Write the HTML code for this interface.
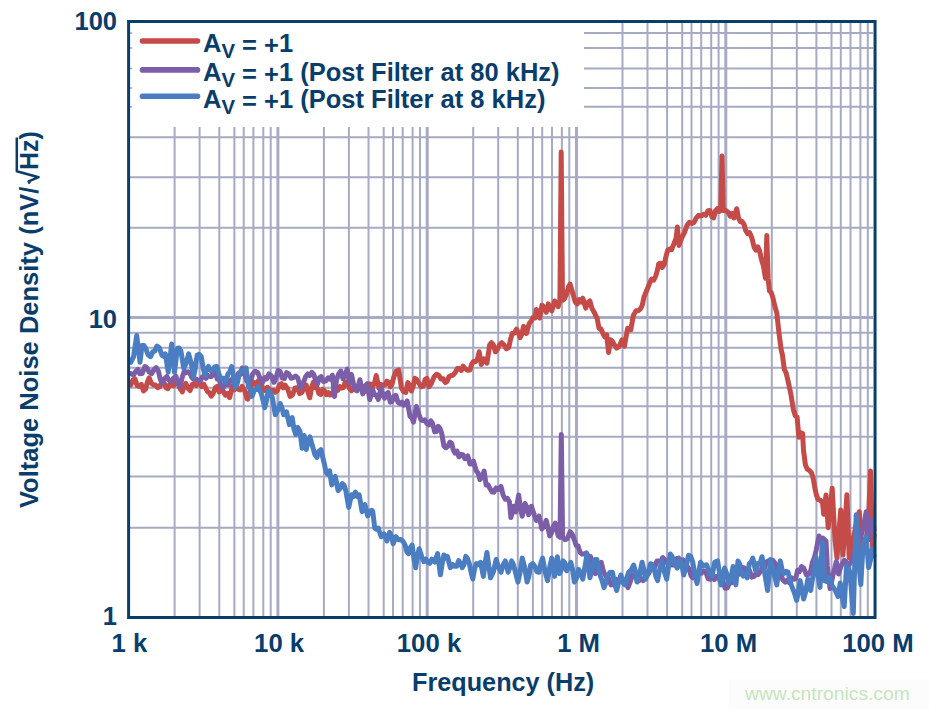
<!DOCTYPE html><html><head><meta charset="utf-8"><style>html,body{margin:0;padding:0;background:#fff;width:929px;height:709px;overflow:hidden}svg{display:block}</style></head><body><svg width="929" height="709" viewBox="0 0 929 709">
<rect width="929" height="709" fill="#fff"/>
<rect x="729" y="679" width="200" height="30" fill="#fcfcfc"/>
<g stroke="#a6aac3"><line x1="174.6" y1="127" x2="174.6" y2="616" stroke-width="2.0"/><line x1="199.6" y1="127" x2="199.6" y2="616" stroke-width="2.0"/><line x1="219.3" y1="127" x2="219.3" y2="616" stroke-width="2.0"/><line x1="234.4" y1="127" x2="234.4" y2="616" stroke-width="2.0"/><line x1="243.7" y1="127" x2="243.7" y2="616" stroke-width="2.0"/><line x1="253.4" y1="127" x2="253.4" y2="616" stroke-width="2.0"/><line x1="263.3" y1="127" x2="263.3" y2="616" stroke-width="2.0"/><line x1="270.7" y1="127" x2="270.7" y2="616" stroke-width="2.0"/><line x1="323.9" y1="127" x2="323.9" y2="616" stroke-width="2.0"/><line x1="348.9" y1="127" x2="348.9" y2="616" stroke-width="2.0"/><line x1="368.5" y1="127" x2="368.5" y2="616" stroke-width="2.0"/><line x1="383.7" y1="127" x2="383.7" y2="616" stroke-width="2.0"/><line x1="393.0" y1="127" x2="393.0" y2="616" stroke-width="2.0"/><line x1="402.7" y1="127" x2="402.7" y2="616" stroke-width="2.0"/><line x1="412.6" y1="127" x2="412.6" y2="616" stroke-width="2.0"/><line x1="420.0" y1="127" x2="420.0" y2="616" stroke-width="2.0"/><line x1="473.2" y1="127" x2="473.2" y2="616" stroke-width="2.0"/><line x1="498.2" y1="127" x2="498.2" y2="616" stroke-width="2.0"/><line x1="517.8" y1="127" x2="517.8" y2="616" stroke-width="2.0"/><line x1="532.9" y1="127" x2="532.9" y2="616" stroke-width="2.0"/><line x1="542.2" y1="127" x2="542.2" y2="616" stroke-width="2.0"/><line x1="552.0" y1="127" x2="552.0" y2="616" stroke-width="2.0"/><line x1="561.9" y1="127" x2="561.9" y2="616" stroke-width="2.0"/><line x1="569.3" y1="127" x2="569.3" y2="616" stroke-width="2.0"/><line x1="622.5" y1="23" x2="622.5" y2="616" stroke-width="2.0"/><line x1="647.5" y1="23" x2="647.5" y2="616" stroke-width="2.0"/><line x1="667.1" y1="23" x2="667.1" y2="616" stroke-width="2.0"/><line x1="682.2" y1="23" x2="682.2" y2="616" stroke-width="2.0"/><line x1="691.5" y1="23" x2="691.5" y2="616" stroke-width="2.0"/><line x1="701.2" y1="23" x2="701.2" y2="616" stroke-width="2.0"/><line x1="711.2" y1="23" x2="711.2" y2="616" stroke-width="2.0"/><line x1="718.6" y1="23" x2="718.6" y2="616" stroke-width="2.0"/><line x1="771.8" y1="23" x2="771.8" y2="616" stroke-width="2.0"/><line x1="796.8" y1="23" x2="796.8" y2="616" stroke-width="2.0"/><line x1="816.4" y1="23" x2="816.4" y2="616" stroke-width="2.0"/><line x1="831.5" y1="23" x2="831.5" y2="616" stroke-width="2.0"/><line x1="840.8" y1="23" x2="840.8" y2="616" stroke-width="2.0"/><line x1="850.5" y1="23" x2="850.5" y2="616" stroke-width="2.0"/><line x1="860.4" y1="23" x2="860.4" y2="616" stroke-width="2.0"/><line x1="867.8" y1="23" x2="867.8" y2="616" stroke-width="2.0"/><line x1="277.9" y1="127" x2="277.9" y2="616" stroke-width="3"/><line x1="427.2" y1="127" x2="427.2" y2="616" stroke-width="3"/><line x1="576.5" y1="127" x2="576.5" y2="616" stroke-width="3"/><line x1="725.8" y1="23" x2="725.8" y2="616" stroke-width="3"/><line x1="584" y1="33.0" x2="873" y2="33.0" stroke-width="2.0"/><line x1="584" y1="48.0" x2="873" y2="48.0" stroke-width="2.0"/><line x1="584" y1="68.5" x2="873" y2="68.5" stroke-width="2.0"/><line x1="584" y1="88.0" x2="873" y2="88.0" stroke-width="2.0"/><line x1="584" y1="106.8" x2="873" y2="106.8" stroke-width="2.0"/><line x1="130" y1="137.3" x2="873" y2="137.3" stroke-width="2.0"/><line x1="130" y1="177.2" x2="873" y2="177.2" stroke-width="2.0"/><line x1="130" y1="227.8" x2="873" y2="227.8" stroke-width="2.0"/><line x1="130" y1="332.8" x2="873" y2="332.8" stroke-width="2.0"/><line x1="130" y1="347.7" x2="873" y2="347.7" stroke-width="2.0"/><line x1="130" y1="367.7" x2="873" y2="367.7" stroke-width="2.0"/><line x1="130" y1="387.8" x2="873" y2="387.8" stroke-width="2.0"/><line x1="130" y1="406.3" x2="873" y2="406.3" stroke-width="2.0"/><line x1="130" y1="436.8" x2="873" y2="436.8" stroke-width="2.0"/><line x1="130" y1="476.5" x2="873" y2="476.5" stroke-width="2.0"/><line x1="130" y1="527.8" x2="873" y2="527.8" stroke-width="2.0"/><line x1="130" y1="317.5" x2="873" y2="317.5" stroke-width="3"/></g>
<g stroke="#a6aac3" stroke-width="1.6"><line x1="130" y1="33.0" x2="132.2" y2="33.0"/><line x1="130" y1="48.0" x2="132.2" y2="48.0"/><line x1="130" y1="68.5" x2="132.2" y2="68.5"/><line x1="130" y1="88.0" x2="132.2" y2="88.0"/><line x1="130" y1="106.8" x2="132.2" y2="106.8"/></g>
<path d="M130.8,384.9 L132.9,380.0 L135.1,379.2 L137.2,385.6 L139.3,386.3 L141.4,384.4 L143.5,391.0 L145.6,389.1 L147.4,381.9 L149.2,377.8 L151.3,383.1 L153.4,384.9 L155.5,384.9 L157.6,387.7 L159.7,386.9 L161.9,382.1 L164.0,382.8 L166.1,387.7 L168.0,388.7 L169.8,384.1 L171.7,384.9 L173.6,385.9 L175.5,381.2 L177.4,382.1 L179.8,388.1 L182.3,391.9 L184.1,386.3 L185.8,383.5 L187.9,388.2 L190.1,390.5 L192.2,384.5 L194.3,383.5 L196.2,385.5 L198.1,382.0 L199.9,383.5 L201.8,386.7 L203.7,384.2 L205.6,387.7 L207.5,391.7 L209.3,392.5 L211.2,396.2 L213.3,393.2 L215.4,387.7 L217.3,386.3 L219.2,391.9 L221.1,390.5 L223.2,391.2 L225.3,395.2 L227.4,393.5 L229.6,397.6 L232.4,386.3 L234.3,389.8 L236.1,387.2 L238.0,389.1 L240.1,389.9 L242.2,386.3 L244.7,390.6 L247.2,399.0 L247.8,399.2 L249.5,394.8 L251.3,385.1 L253.6,382.3 L256.0,384.6 L258.3,380.9 L260.5,381.9 L262.6,388.0 L264.9,390.4 L267.3,387.3 L269.6,389.4 L271.5,391.2 L273.4,390.3 L275.3,392.2 L277.4,390.5 L279.5,385.1 L281.4,383.7 L283.3,387.8 L285.1,385.1 L287.6,388.7 L290.1,396.4 L292.5,394.9 L295.0,388.0 L297.4,387.8 L299.7,393.5 L302.1,392.2 L304.2,385.9 L306.3,385.1 L308.1,392.5 L309.8,397.8 L311.6,387.5 L313.3,382.3 L315.2,387.8 L317.1,388.0 L319.0,393.6 L320.9,394.5 L322.7,389.4 L324.6,390.8 L326.5,394.7 L328.4,392.6 L330.3,395.0 L332.1,394.6 L334.0,388.7 L335.9,388.0 L337.8,390.4 L339.7,386.5 L341.6,388.0 L343.4,387.5 L345.3,381.8 L347.2,382.3 L349.3,388.1 L351.4,390.8 L353.3,387.5 L355.2,389.9 L357.1,388.0 L359.2,388.2 L361.3,389.0 L363.5,392.4 L365.6,390.5 L367.7,384.0 L370.2,383.9 L372.6,386.8 L374.4,383.5 L376.2,375.5 L379.0,388.2 L381.1,384.6 L383.2,385.4 L385.0,384.9 L386.7,381.2 L388.5,382.1 L390.3,386.8 L392.0,384.4 L393.8,376.9 L396.3,371.0 L398.7,369.9 L401.5,388.2 L403.7,391.7 L405.8,392.4 L407.9,382.6 L409.7,385.6 L411.4,391.0 L413.2,386.2 L414.9,378.3 L416.7,379.5 L418.5,382.6 L421.3,386.8 L423.2,386.4 L425.1,379.5 L426.9,378.3 L429.0,386.8 L431.5,383.2 L434.0,376.9 L436.5,374.2 L438.9,375.5 L441.0,379.0 L443.2,378.7 L445.3,382.6 L447.1,381.4 L449.0,376.7 L450.9,375.5 L453.0,375.2 L455.1,372.7 L457.3,368.6 L459.4,368.5 L461.3,370.4 L463.1,366.2 L465.0,368.5 L467.5,370.2 L470.0,369.9 L471.7,364.1 L473.5,361.4 L475.6,361.7 L477.4,359.1 L479.2,351.8 L481.3,364.5 L484.1,358.9 L486.9,363.1 L489.7,344.8 L491.5,342.6 L493.3,344.8 L495.4,351.8 L497.5,349.3 L499.6,344.8 L501.7,342.7 L503.9,344.8 L506.3,348.8 L508.8,347.6 L510.6,339.0 L512.3,333.5 L514.4,333.0 L516.5,329.2 L518.3,332.5 L520.1,337.7 L521.8,334.3 L523.6,326.4 L526.4,333.5 L529.2,323.6 L531.4,320.8 L533.1,317.5 L534.9,318.0 L536.3,309.5 L538.1,315.3 L539.8,318.0 L541.9,305.3 L544.0,307.0 L546.2,312.3 L548.3,303.9 L550.0,309.0 L551.8,310.9 L554.6,301.0 L556.4,302.9 L558.2,306.7 L559.9,300.3 L561.2,152.0 L562.5,300.3 L564.6,298.5 L566.6,294.0 L568.4,287.0 L570.1,284.1 L573.0,294.0 L575.1,301.7 L577.2,303.9 L579.1,299.5 L581.0,302.1 L582.8,298.2 L585.7,308.1 L587.8,302.6 L589.9,301.0 L591.9,308.3 L594.0,311.9 L597.1,318.3 L599.0,328.4 L601.0,329.0 L602.9,333.5 L604.8,337.0 L606.7,334.8 L608.6,352.5 L610.5,339.8 L612.4,341.2 L614.3,344.9 L616.8,348.1 L619.4,346.2 L621.9,339.8 L624.4,346.2 L627.6,328.4 L630.8,329.7 L633.3,315.7 L635.9,310.8 L638.4,310.6 L640.3,309.0 L642.2,305.6 L644.1,296.7 L647.3,289.0 L649.8,282.7 L651.7,279.0 L653.7,280.2 L655.6,276.2 L657.5,270.0 L658.7,263.8 L660.5,263.2 L662.3,267.4 L664.2,264.4 L666.0,256.4 L667.8,249.9 L669.7,249.1 L671.5,249.7 L673.3,245.4 L676.1,238.1 L677.4,227.1 L678.9,245.4 L681.6,238.1 L684.4,232.6 L687.1,225.2 L689.4,222.2 L691.7,223.4 L694.0,222.4 L696.3,217.9 L698.6,215.3 L700.9,216.1 L703.6,214.2 L705.8,215.3 L707.9,210.7 L710.0,210.6 L711.9,216.7 L713.7,217.9 L715.6,210.7 L717.4,208.7 L719.0,211.5 L720.7,210.6 L722.0,156.0 L723.3,210.6 L725.8,210.5 L728.4,212.4 L730.2,216.2 L732.1,213.4 L733.9,217.9 L736.7,208.7 L738.5,217.9 L740.3,221.7 L742.2,221.6 L744.0,224.3 L745.8,230.7 L747.7,233.7 L749.5,232.6 L751.8,237.7 L754.1,247.2 L755.9,250.1 L757.8,246.9 L759.6,250.9 L761.4,259.3 L763.3,265.6 L765.5,278.2 L766.8,235.5 L768.1,278.2 L769.5,290.9 L771.2,292.4 L772.9,297.7 L774.9,306.5 L776.8,312.9 L779.0,333.2 L781.2,349.9 L782.4,354.7 L784.3,369.4 L786.1,372.8 L787.9,380.4 L790.7,393.2 L793.4,409.7 L795.3,415.8 L797.1,417.1 L798.9,437.2 L800.8,432.7 L802.6,433.6 L803.5,450.1 L805.4,464.8 L807.2,469.1 L809.0,470.1 L811.3,472.4 L813.0,477.4 L814.7,487.1 L816.4,495.0 L818.1,499.5 L820.3,500.1 L822.6,502.9 L823.7,514.2 L826.0,495.0 L828.2,527.7 L832.2,488.2 L835.0,540.0 L837.0,558.0 L840.7,510.0 L843.0,555.0 L846.9,494.7 L849.2,558.0 L851.5,544.0 L853.2,538.3 L855.0,530.0 L857.1,519.0 L859.3,511.7 L861.6,549.0 L863.8,546.3 L866.0,540.0 L868.5,520.0 L870.5,471.0 L872.5,547.0 L874.0,535.0" fill="none" stroke="#c44b47" stroke-width="5.0" stroke-linejoin="round" stroke-linecap="round"/>
<path d="M130.8,373.6 L133.6,375.0 L135.8,371.3 L137.9,369.4 L140.0,373.8 L142.1,373.6 L144.9,366.5 L147.0,367.9 L149.2,372.2 L151.6,373.6 L154.1,369.4 L156.2,367.6 L158.3,370.8 L160.1,378.5 L161.9,383.5 L164.3,378.9 L166.8,376.4 L168.9,380.2 L171.0,382.1 L173.5,378.0 L176.0,376.4 L178.1,383.6 L180.2,386.3 L182.3,376.8 L184.4,370.8 L186.3,372.6 L188.2,371.7 L190.1,373.6 L191.8,377.4 L193.6,379.2 L196.1,379.0 L198.5,380.6 L200.4,380.7 L202.3,376.7 L204.2,376.4 L206.0,378.3 L207.9,375.4 L209.8,376.4 L211.7,376.4 L213.6,371.6 L215.4,372.2 L217.3,379.1 L219.2,379.0 L221.1,386.3 L223.0,388.0 L224.9,384.1 L226.7,384.9 L228.6,384.7 L230.5,380.0 L232.4,379.2 L234.5,380.4 L236.6,379.2 L238.5,373.0 L240.4,374.5 L242.2,368.0 L244.4,372.4 L246.5,380.6 L248.5,382.3 L250.6,379.8 L252.7,373.9 L255.2,371.2 L257.6,372.4 L260.1,378.4 L262.6,382.3 L264.7,377.5 L266.8,378.8 L268.9,373.9 L271.4,376.0 L273.9,382.3 L276.0,378.0 L278.1,370.3 L280.2,371.7 L282.3,378.1 L284.4,378.6 L286.5,372.5 L288.7,373.9 L291.1,378.3 L293.6,377.4 L295.7,376.0 L297.8,378.1 L300.6,388.0 L303.1,383.4 L305.6,376.7 L307.7,373.9 L309.8,375.5 L311.9,372.4 L313.8,374.4 L315.7,381.1 L317.6,383.7 L319.3,377.8 L321.1,376.7 L323.6,381.5 L326.0,380.9 L328.2,377.8 L330.3,379.2 L332.4,375.3 L334.5,396.4 L336.5,379.8 L338.6,374.0 L340.8,371.1 L342.9,378.7 L345.0,375.2 L347.2,369.0 L349.4,383.0 L351.5,374.4 L354.2,387.3 L357.1,390.8 L359.9,379.7 L362.8,393.9 L364.9,386.4 L367.0,384.0 L369.8,399.5 L372.6,389.6 L374.5,394.7 L376.4,395.2 L378.3,399.5 L381.1,388.2 L382.9,395.4 L384.6,398.1 L386.4,394.1 L388.1,392.4 L390.3,402.3 L392.1,401.5 L394.0,396.2 L395.9,395.3 L398.0,402.3 L400.1,403.7 L401.9,402.2 L403.7,405.1 L405.4,404.6 L407.2,400.9 L410.0,416.4 L411.8,417.3 L413.5,422.1 L416.4,406.5 L419.2,415.0 L420.9,419.7 L422.7,420.6 L424.8,419.9 L426.9,423.5 L428.8,424.8 L430.7,420.8 L432.6,423.5 L434.7,431.9 L436.5,431.6 L438.2,426.3 L440.0,428.3 L441.7,433.3 L443.9,446.0 L446.0,447.7 L448.1,446.0 L449.9,442.2 L451.6,443.2 L453.4,450.3 L455.1,453.1 L457.0,451.2 L458.9,456.8 L460.8,454.5 L462.9,454.8 L465.0,458.7 L467.8,455.9 L470.0,464.0 L471.8,464.1 L473.5,461.2 L476.3,471.0 L478.1,473.2 L479.9,479.5 L482.0,477.1 L484.1,471.0 L486.2,485.1 L488.0,484.7 L489.7,488.0 L491.9,491.7 L494.0,492.2 L496.1,487.9 L498.2,489.4 L501.0,486.5 L503.1,495.1 L505.3,499.2 L507.4,498.4 L509.5,502.1 L510.9,517.6 L513.7,506.3 L515.8,511.9 L518.7,495.0 L520.4,507.7 L522.2,516.2 L525.0,503.5 L526.8,506.9 L528.5,514.8 L531.4,506.3 L534.2,514.8 L536.3,520.4 L539.1,516.2 L541.9,528.9 L544.0,526.5 L546.2,520.4 L547.9,527.2 L549.7,535.9 L551.6,532.8 L553.5,526.2 L555.3,523.2 L558.2,535.9 L560.0,537.3 L561.3,434.5 L562.6,537.3 L565.0,539.7 L567.3,538.7 L570.1,531.7 L572.3,534.4 L574.4,540.0 L576.2,545.5 L578.1,546.0 L580.0,552.4 L582.1,554.1 L584.2,553.9 L586.3,552.9 L588.5,558.5 L590.6,556.7 L593.0,563.8 L595.5,573.6 L597.4,571.1 L599.3,564.7 L601.2,562.3 L603.6,571.9 L606.1,576.4 L608.6,578.4 L611.0,584.9 L612.9,584.6 L614.8,580.1 L616.7,579.2 L618.6,580.2 L620.4,578.0 L622.3,579.2 L624.2,584.0 L626.1,582.7 L628.0,587.7 L630.1,582.2 L632.2,575.0 L634.5,574.2 L636.9,580.4 L639.2,580.6 L641.1,578.5 L643.0,580.6 L644.9,577.8 L646.8,573.7 L648.6,573.8 L650.5,569.4 L652.6,564.7 L654.8,567.0 L656.9,561.0 L659.0,560.9 L660.9,561.6 L662.7,557.5 L664.6,559.5 L667.0,563.2 L669.3,561.9 L671.7,565.1 L674.0,565.0 L676.4,558.7 L678.7,558.1 L680.8,561.5 L683.0,559.8 L685.1,566.2 L687.2,566.5 L689.1,569.2 L691.0,575.6 L692.8,577.8 L695.0,573.7 L697.1,576.4 L699.2,571.7 L701.3,573.2 L703.5,570.8 L705.8,572.0 L708.2,578.8 L710.5,579.2 L712.4,576.1 L714.3,579.6 L716.2,576.4 L718.4,576.5 L720.7,582.6 L722.9,581.7 L725.2,588.2 L727.4,587.7 L729.8,582.2 L732.1,582.7 L734.5,576.4 L737.0,572.4 L739.4,574.2 L741.9,567.5 L744.4,568.0 L746.8,571.5 L749.3,570.1 L751.8,577.1 L754.2,576.4 L756.1,573.1 L758.0,574.7 L759.9,572.2 L762.0,567.5 L764.1,569.0 L766.2,562.1 L768.3,560.9 L770.7,562.8 L773.0,560.5 L775.4,563.7 L777.9,570.7 L780.3,571.9 L782.8,579.9 L785.3,582.1 L787.4,580.1 L789.5,582.9 L791.6,577.9 L793.7,579.2 L795.7,578.8 L797.6,570.2 L799.5,571.7 L801.5,566.5 L804.0,568.5 L806.4,575.0 L808.5,574.3 L810.7,570.8 L812.4,562.3 L814.2,558.1 L816.0,551.0 L819.0,536.0 L820.9,538.9 L822.8,538.0 L826.0,541.0 L827.3,566.0 L830.1,588.6 L833.0,575.0 L836.3,561.5 L838.6,574.0 L841.0,566.0 L844.2,560.3 L846.1,561.8 L848.0,566.0 L851.0,562.0 L853.5,556.5 L856.0,548.0 L858.4,540.8 L860.8,536.5 L863.5,526.2 L866.2,511.7 L869.3,539.6 L872.4,519.5 L874.0,530.0" fill="none" stroke="#7b5ea7" stroke-width="5.0" stroke-linejoin="round" stroke-linecap="round"/>
<path d="M130.8,362.3 L133.6,356.7 L136.7,335.5 L140.0,362.3 L142.1,345.4 L143.9,345.6 L145.6,348.2 L148.1,354.8 L150.6,356.7 L152.7,351.9 L154.8,351.0 L156.9,346.1 L159.4,347.9 L161.9,355.3 L163.6,356.3 L165.4,353.9 L168.2,372.2 L171.7,344.0 L174.5,372.2 L177.4,348.2 L179.1,348.0 L180.9,351.0 L183.7,368.0 L186.2,363.1 L188.6,353.9 L191.1,362.5 L193.6,376.4 L195.3,368.5 L197.1,355.3 L199.2,354.3 L201.3,356.7 L203.1,368.0 L204.9,375.0 L206.6,369.0 L208.4,366.5 L210.5,370.6 L212.6,370.8 L214.7,366.7 L216.9,366.5 L219.0,374.1 L221.1,379.2 L223.2,378.4 L225.3,382.1 L228.1,373.6 L229.9,371.7 L231.7,366.5 L233.4,375.5 L235.2,387.7 L237.3,383.5 L239.4,373.6 L241.6,370.7 L243.8,371.1 L246.1,368.0 L248.5,386.5 L250.2,389.3 L252.0,396.4 L254.8,389.4 L256.6,389.5 L258.3,386.5 L261.2,393.6 L262.9,399.7 L264.7,407.7 L266.4,401.1 L268.2,390.8 L270.3,392.3 L272.4,397.8 L275.3,414.8 L277.7,410.5 L280.2,403.5 L282.0,408.2 L283.7,414.8 L286.5,411.9 L289.4,424.6 L292.2,417.6 L293.9,428.8 L295.7,434.5 L297.8,427.4 L300.0,431.3 L302.1,448.2 L304.2,435.5 L306.3,449.6 L308.1,441.1 L309.9,436.9 L312.7,446.8 L314.8,454.3 L316.9,457.4 L318.9,451.3 L320.9,449.6 L324.0,462.3 L326.1,472.2 L327.9,474.3 L329.6,470.8 L331.7,484.9 L333.5,479.4 L335.3,476.4 L338.1,490.5 L340.2,488.2 L342.3,483.5 L344.1,485.2 L345.8,490.5 L348.7,507.4 L351.5,494.8 L353.4,496.6 L355.4,492.1 L357.3,496.5 L359.2,494.8 L362.1,511.7 L364.9,504.6 L367.7,515.9 L369.8,511.1 L371.9,510.3 L372.7,511.3 L374.8,528.2 L376.6,529.3 L378.3,528.2 L381.2,536.7 L384.0,533.9 L386.8,540.9 L389.6,532.4 L391.4,536.0 L393.1,543.7 L396.0,536.7 L398.4,539.7 L400.9,539.5 L403.0,541.3 L405.1,545.1 L406.9,551.9 L408.7,553.6 L410.4,547.5 L412.2,545.1 L413.9,558.2 L415.7,567.7 L417.5,555.5 L419.2,548.7 L422.1,557.8 L423.9,561.6 L425.8,559.1 L427.7,562.1 L429.8,563.3 L431.9,559.2 L434.8,562.1 L437.6,553.6 L440.4,574.8 L442.2,563.5 L443.9,555.0 L445.7,558.1 L447.4,556.4 L450.3,567.7 L452.4,564.4 L454.5,566.3 L456.6,566.3 L458.7,560.6 L460.5,563.3 L462.3,567.7 L464.0,564.5 L465.8,556.4 L467.5,558.5 L469.3,563.5 L471.1,572.3 L472.8,579.0 L474.6,568.7 L476.4,563.5 L478.5,564.5 L480.6,562.3 L483.4,576.4 L485.2,562.7 L486.9,552.4 L490.5,577.8 L493.3,572.2 L496.1,559.5 L498.6,567.5 L501.0,572.2 L503.1,564.9 L505.3,560.9 L508.1,572.2 L509.8,567.8 L511.6,560.9 L513.4,564.3 L515.1,570.8 L518.0,582.1 L520.1,572.3 L522.2,558.1 L524.7,567.5 L527.1,582.1 L528.9,576.0 L530.6,565.1 L532.8,563.6 L534.9,566.5 L537.0,571.7 L539.1,572.2 L540.9,562.8 L542.6,558.1 L545.1,571.8 L547.6,580.6 L549.7,567.1 L551.8,558.1 L554.6,576.4 L557.4,556.7 L559.6,573.6 L561.3,569.8 L563.1,560.9 L564.9,563.1 L566.6,570.8 L568.7,567.7 L570.8,562.3 L572.6,569.7 L574.4,582.1 L576.5,578.3 L578.6,569.4 L580.7,573.4 L582.8,579.2 L587.1,553.9 L589.9,577.8 L591.6,572.3 L593.4,562.3 L595.2,559.4 L596.9,559.5 L598.7,569.1 L600.5,576.4 L602.2,580.8 L604.0,587.7 L605.7,583.4 L607.5,576.4 L610.0,572.4 L612.4,572.2 L614.6,583.2 L616.7,590.5 L618.8,581.8 L620.9,575.0 L623.0,582.6 L625.1,584.9 L626.9,577.3 L628.7,572.2 L631.1,570.1 L633.6,565.1 L635.4,571.0 L637.1,582.1 L639.6,574.6 L642.1,562.3 L643.8,569.1 L645.6,579.2 L648.1,573.6 L650.5,563.7 L652.3,564.8 L654.0,568.0 L655.8,576.2 L657.6,580.6 L659.7,569.4 L661.8,560.9 L664.3,571.5 L666.7,579.2 L670.3,553.9 L672.0,556.3 L673.8,560.9 L675.6,565.5 L677.3,568.0 L680.1,559.5 L681.9,565.4 L683.7,575.0 L686.1,566.1 L688.6,555.3 L690.7,556.2 L692.8,562.3 L695.0,575.6 L697.1,583.5 L698.9,571.3 L700.6,562.3 L702.8,565.8 L704.9,565.1 L706.6,564.8 L708.4,569.4 L710.2,573.9 L711.9,576.4 L714.7,562.3 L717.6,560.9 L719.3,571.7 L721.1,584.9 L722.9,578.0 L724.6,568.0 L726.7,573.8 L728.9,583.5 L731.0,577.8 L733.1,566.5 L735.9,584.9 L738.0,560.9 L739.8,564.2 L741.5,572.2 L743.4,576.1 L745.3,574.4 L747.2,577.8 L749.3,563.7 L751.1,562.3 L752.8,558.1 L755.6,570.8 L757.8,563.6 L759.9,563.8 L762.0,556.7 L764.8,573.6 L767.6,590.5 L770.5,559.5 L776.8,584.9 L778.6,570.1 L780.3,560.9 L782.1,569.8 L783.9,573.6 L786.0,571.4 L788.1,572.2 L790.2,581.5 L792.3,587.7 L794.4,592.8 L796.6,600.4 L798.3,592.2 L800.1,580.6 L801.8,588.2 L803.6,599.0 L805.7,591.9 L807.8,579.2 L810.7,590.5 L812.4,579.1 L814.2,570.8 L816.0,557.0 L818.0,575.0 L820.0,587.4 L822.2,542.3 L824.5,580.7 L826.5,581.5 L828.4,577.0 L830.1,579.1 L831.8,585.0 L835.0,590.0 L838.0,596.5 L840.3,583.0 L842.2,597.0 L844.2,606.6 L846.5,566.0 L848.2,567.6 L849.9,572.7 L853.3,613.4 L856.2,514.8 L858.5,560.0 L860.8,584.6 L863.1,544.0 L866.2,536.5 L868.6,567.5 L870.5,560.2 L872.4,549.0 L874.0,556.0" fill="none" stroke="#4a7dc1" stroke-width="5.0" stroke-linejoin="round" stroke-linecap="round"/>
<rect x="128.6" y="21.5" width="746.45" height="596" fill="none" stroke="#093d6b" stroke-width="3"/>
<line x1="142.5" y1="41.0" x2="197.5" y2="41.0" stroke="#c44b47" stroke-width="5.6" stroke-linecap="round"/>
<line x1="142.5" y1="69.9" x2="197.5" y2="69.9" stroke="#7b5ea7" stroke-width="5.6" stroke-linecap="round"/>
<line x1="142.5" y1="96.3" x2="197.5" y2="96.3" stroke="#4a7dc1" stroke-width="5.6" stroke-linecap="round"/>
<text font-family="Liberation Sans, sans-serif" font-weight="bold" fill="#093d6b" font-size="25" transform="translate(203,51.9) scale(1.02,1)" x="0" y="0">A<tspan font-size="20" dy="6">V</tspan><tspan dy="-3.5"> = +</tspan><tspan dy="-2.5">1</tspan></text>
<text font-family="Liberation Sans, sans-serif" font-weight="bold" fill="#093d6b" font-size="25" transform="translate(203,80.5) scale(1.02,1)" x="0" y="0">A<tspan font-size="20" dy="6">V</tspan><tspan dy="-3.5"> = +</tspan><tspan dy="-2.5">1 (Post Filter at 80 kHz)</tspan></text>
<text font-family="Liberation Sans, sans-serif" font-weight="bold" fill="#093d6b" font-size="25" transform="translate(203,107.5) scale(1.02,1)" x="0" y="0">A<tspan font-size="20" dy="6">V</tspan><tspan dy="-3.5"> = +</tspan><tspan dy="-2.5">1 (Post Filter at 8 kHz)</tspan></text>
<text font-family="Liberation Sans, sans-serif" font-weight="bold" fill="#093d6b" font-size="25" transform="translate(117,30.2) scale(1.02,1)" x="0" y="0" text-anchor="end">100</text>
<text font-family="Liberation Sans, sans-serif" font-weight="bold" fill="#093d6b" font-size="25" transform="translate(117,327.8) scale(1.02,1)" x="0" y="0" text-anchor="end">10</text>
<text font-family="Liberation Sans, sans-serif" font-weight="bold" fill="#093d6b" font-size="25" transform="translate(117,625.3) scale(1.02,1)" x="0" y="0" text-anchor="end">1</text>
<text font-family="Liberation Sans, sans-serif" font-weight="bold" fill="#093d6b" font-size="25" transform="translate(129.3,652) scale(1.03,1)" x="0" y="0" text-anchor="middle">1 k</text>
<text font-family="Liberation Sans, sans-serif" font-weight="bold" fill="#093d6b" font-size="25" transform="translate(279.1,652) scale(1.03,1)" x="0" y="0" text-anchor="middle">10 k</text>
<text font-family="Liberation Sans, sans-serif" font-weight="bold" fill="#093d6b" font-size="25" transform="translate(429.0,652) scale(1.03,1)" x="0" y="0" text-anchor="middle">100 k</text>
<text font-family="Liberation Sans, sans-serif" font-weight="bold" fill="#093d6b" font-size="25" transform="translate(578.6,652) scale(1.03,1)" x="0" y="0" text-anchor="middle">1 M</text>
<text font-family="Liberation Sans, sans-serif" font-weight="bold" fill="#093d6b" font-size="25" transform="translate(728.6,652) scale(1.03,1)" x="0" y="0" text-anchor="middle">10 M</text>
<text font-family="Liberation Sans, sans-serif" font-weight="bold" fill="#093d6b" font-size="25" transform="translate(878.0,652) scale(1.03,1)" x="0" y="0" text-anchor="middle">100 M</text>
<text font-family="Liberation Sans, sans-serif" font-weight="bold" fill="#093d6b" font-size="25" transform="translate(412,691) scale(1.01,1)" x="0" y="0">Frequency (Hz)</text>
<text font-family="Liberation Sans, sans-serif" font-weight="bold" fill="#093d6b" font-size="25" transform="translate(38,508) rotate(-90) scale(1.021,1)" x="0" y="0">Voltage Noise Density (nV/</text>
<text font-family="Liberation Sans, sans-serif" font-weight="bold" fill="#093d6b" font-size="25" transform="translate(38,170) rotate(-90)" x="0" y="0">Hz)</text>
<path d="M16.8,137.5 L16.8,171.2 L38.6,177.2 L28.6,181.4 L29.8,183.6" fill="none" stroke="#093d6b" stroke-width="2.5" stroke-linejoin="round"/>
<text font-family="Liberation Sans, sans-serif" font-size="19.25" fill="#c6e5bd" x="745" y="700">www.cntronics.com</text>
</svg></body></html>
